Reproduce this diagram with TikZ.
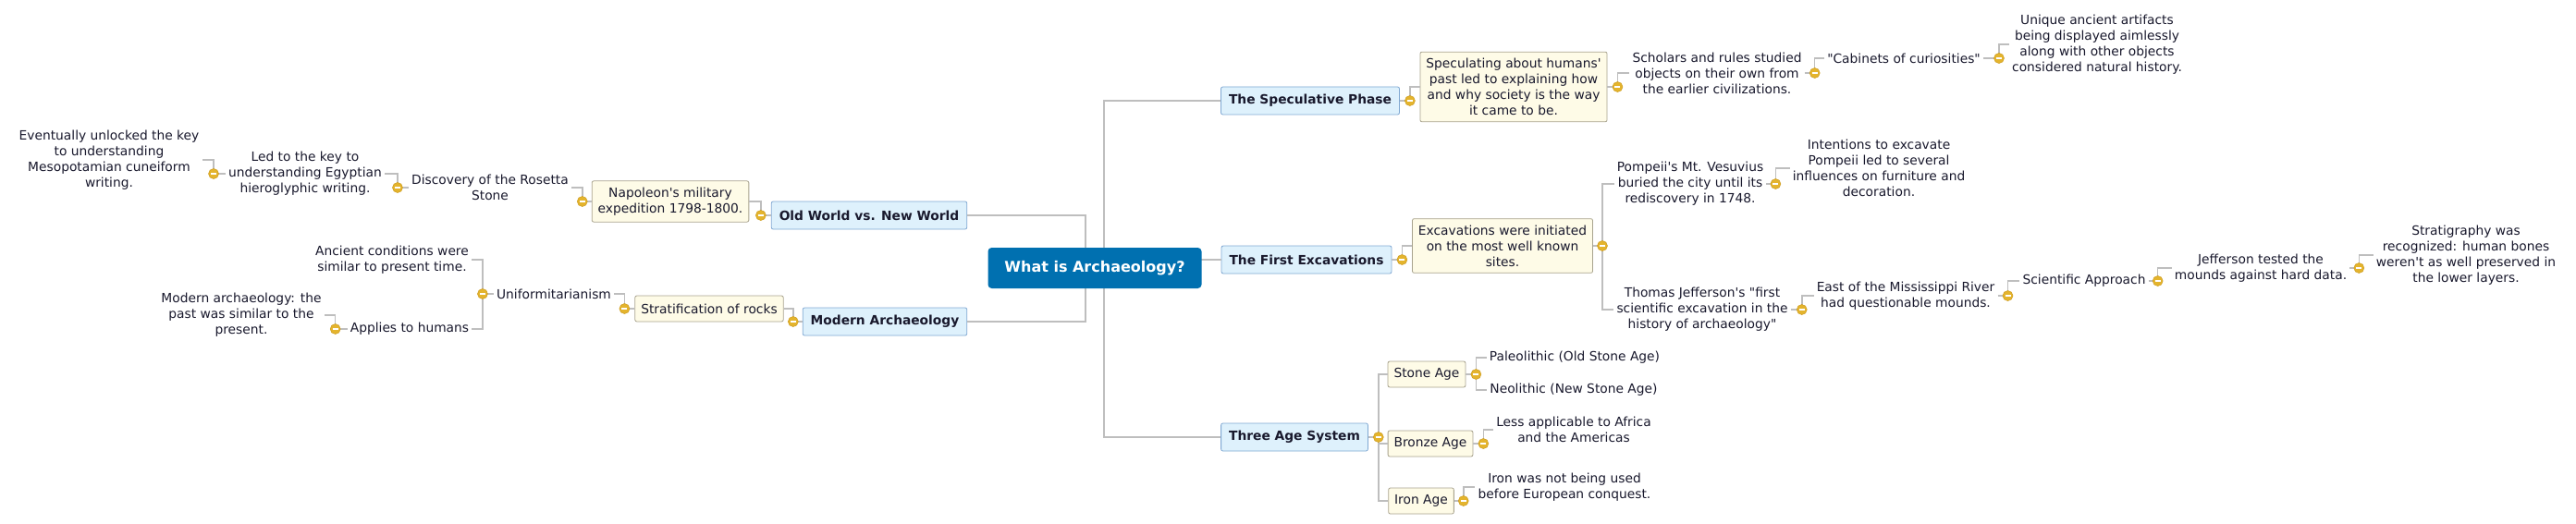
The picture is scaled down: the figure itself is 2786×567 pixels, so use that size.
\documentclass[tikz,border=0pt]{standalone}
\usepackage{fontspec}
\setmainfont{DejaVu Sans}[Ligatures = TeXOff]
\usepackage{tikz}

\definecolor{rootblue}{RGB}{0,112,176}
\definecolor{topicfill}{RGB}{222,241,252}
\definecolor{topicdraw}{RGB}{128,168,210}
\definecolor{notefill}{RGB}{254,251,231}
\definecolor{notedraw}{RGB}{168,163,142}
\definecolor{linkgray}{RGB}{190,190,190}
\definecolor{toggold}{RGB}{228,180,45}
\definecolor{togedge}{RGB}{205,155,30}
\definecolor{inkdark}{RGB}{25,25,45}

\begin{document}
\begin{tikzpicture}[x = 1pt, y = -1pt,
    every node/.style = {font = \fontsize{13.8}{17}\selectfont, text = inkdark},
    root/.style = {fill = rootblue, rounded corners = 4pt, text = white,
      font = \fontsize{16}{19}\selectfont\bfseries, minimum width = 231pt, minimum height = 44pt},
    topic/.style = {fill = topicfill, draw = topicdraw, line width = 0.8pt, rounded corners = 2pt,
      font = \fontsize{13.8}{17}\selectfont\bfseries, minimum height = 30pt, inner xsep = 8.5pt},
    note/.style = {fill = notefill, draw = notedraw, line width = 0.8pt, rounded corners = 2pt,
      align = center, minimum height = 28pt, inner xsep = 6.5pt, inner ysep = 7pt},
    leaf/.style = {align = center, inner xsep = 3pt, inner ysep = 2pt},
    link/.style = {draw = linkgray, line width = 1.6pt},
    tog/.style = {circle, fill = toggold, draw = togedge, line width = 0.5pt,
      minimum size = 11pt, inner sep = 0pt,
      path picture = {\draw [white, line width = 1.8pt]
        ([xshift = 2.5pt] path picture bounding box.west) --
        ([xshift = -2.5pt] path picture bounding box.east);}}]

  \useasboundingbox [fill = white] (0, 0) rectangle (2786, 567);

  % main branches
  \node (spec) at (1417, 109) [topic] {The Speculative Phase};
  \node (firstex) at (1413, 281) [topic] {The First Excavations};
  \node (three) at (1400, 473) [topic] {Three Age System};
  \node (oldw) at (940, 233) [topic] {Old World vs. New World};
  \node (modern) at (957, 348) [topic] {Modern Archaeology};

  % left side
  \node (napol) at (725, 218) [note] {Napoleon's military\\expedition 1798-1800.};
  \node (disc) at (530, 203) [leaf] {Discovery of the Rosetta\\Stone};
  \node (led) at (330, 188) [leaf] {Led to the key to\\understanding Egyptian\\hieroglyphic writing.};
  \node (event) at (118, 173) [leaf] {Eventually unlocked the key\\to understanding\\Mesopotamian cuneiform\\writing.};
  \node (strat) at (767, 334) [note] {Stratification of rocks};
  \node (unif) at (599, 318) [leaf] {Uniformitarianism};
  \node (ancient) at (424, 281) [leaf] {Ancient conditions were\\similar to present time.};
  \node (applies) at (443, 356) [leaf] {Applies to humans};
  \node (modarch) at (261, 341) [leaf] {Modern archaeology: the\\past was similar to the\\present.};

  % speculative phase
  \node (specul) at (1637, 94) [note] {Speculating about humans'\\past led to explaining how\\and why society is the way\\it came to be.};
  \node (scholars) at (1857, 79) [leaf] {Scholars and rules studied\\objects on their own from\\the earlier civilizations.};
  \node (cabin) at (2059, 63) [leaf] {"Cabinets of curiosities"};
  \node (unique) at (2268, 48) [leaf] {Unique ancient artifacts\\being displayed aimlessly\\along with other objects\\considered natural history.};

  % first excavations
  \node (excav) at (1625, 266) [note] {Excavations were initiated\\on the most well known\\sites.};
  \node (pompeii) at (1828, 199) [leaf] {Pompeii's Mt. Vesuvius\\buried the city until its\\rediscovery in 1748.};
  \node (intent) at (2032, 182) [leaf] {Intentions to excavate\\Pompeii led to several\\influences on furniture and\\decoration.};
  \node (thomas) at (1841, 335) [leaf] {Thomas Jefferson's "first\\scientific excavation in the\\history of archaeology"};
  \node (east) at (2061, 320) [leaf] {East of the Mississippi River\\had questionable mounds.};
  \node (sciapp) at (2254, 304) [leaf] {Scientific Approach};
  \node (jeff) at (2445, 290) [leaf] {Jefferson tested the\\mounds against hard data.};
  \node (strati) at (2667, 276) [leaf] {Stratigraphy was\\recognized: human bones\\weren't as well preserved in\\the lower layers.};

  % three age system
  \node (stone) at (1543, 405) [note] {Stone Age};
  \node (bronze) at (1547, 480) [note] {Bronze Age};
  \node (iron) at (1537, 542) [note] {Iron Age};
  \node (paleo) at (1703, 387) [leaf] {Paleolithic (Old Stone Age)};
  \node (neo) at (1702, 422) [leaf] {Neolithic (New Stone Age)};
  \node (lessapp) at (1702, 465) [leaf] {Less applicable to Africa\\and the Americas};
  \node (ironuse) at (1692, 527) [leaf] {Iron was not being used\\before European conquest.};

  \coordinate (rtrunk) at (1194, 290);
  \coordinate (ltrunk) at (1174, 290);

  \coordinate (t-spec) at ([xshift = 11pt] spec.east);
  \coordinate (t-first) at ([xshift = 11pt] firstex.east);
  \coordinate (t-three) at ([xshift = 11pt] three.east);
  \coordinate (t-old) at ([xshift = -11pt] oldw.west);
  \coordinate (t-mod) at ([xshift = -10pt] modern.west);
  \coordinate (t-napol) at ([xshift = -10pt] napol.west);
  \coordinate (t-disc) at ([xshift = -12pt] disc.west);
  \coordinate (t-led) at ([xshift = -13pt] led.west);
  \coordinate (t-strat) at ([xshift = -11pt] strat.west);
  \coordinate (t-unif) at ([xshift = -12pt] unif.west);
  \coordinate (t-applies) at ([xshift = -13pt] applies.west);
  \coordinate (t-specul) at ([xshift = 11pt] specul.east);
  \coordinate (t-scholars) at ([xshift = 11pt] scholars.east);
  \coordinate (t-cabin) at ([xshift = 17pt] cabin.east);
  \coordinate (t-excav) at ([xshift = 10pt] excav.east);
  \coordinate (t-pompeii) at ([xshift = 10pt] pompeii.east);
  \coordinate (t-thomas) at ([xshift = 12pt] thomas.east);
  \coordinate (t-east) at ([xshift = 11pt] east.east);
  \coordinate (t-sciapp) at ([xshift = 10pt] sciapp.east);
  \coordinate (t-jeff) at ([xshift = 10pt] jeff.east);
  \coordinate (t-stone) at ([xshift = 11pt] stone.east);
  \coordinate (t-bronze) at ([xshift = 11pt] bronze.east);
  \coordinate (t-iron) at ([xshift = 10pt] iron.east);

  % connectors
  \draw [link] (spec.west) -| (rtrunk);
  \draw [link] (three.west) -| (rtrunk);
  \draw [link] (firstex.west) -- (firstex.west -| rtrunk);
  \draw [link] (oldw.east) -| (ltrunk);
  \draw [link] (modern.east) -| (ltrunk);

  \draw [link] (spec.east) -- (t-spec) |- (specul.west);
  \draw [link] (specul.east) -- (t-specul) |- (scholars.west);
  \draw [link] (scholars.east) -- (t-scholars) |- (cabin.west);
  \draw [link] (cabin.east) -- (t-cabin) |- (unique.west);

  \draw [link] (firstex.east) -- (t-first) |- (excav.west);
  \draw [link] (excav.east) -- (t-excav) |- (pompeii.west);
  \draw [link] (t-excav) |- (thomas.west);
  \draw [link] (pompeii.east) -- (t-pompeii) |- (intent.west);
  \draw [link] (thomas.east) -- (t-thomas) |- (east.west);
  \draw [link] (east.east) -- (t-east) |- (sciapp.west);
  \draw [link] (sciapp.east) -- (t-sciapp) |- (jeff.west);
  \draw [link] (jeff.east) -- (t-jeff) |- (strati.west);

  \draw [link] (three.east) -- (t-three) |- (stone.west);
  \draw [link] (t-three) |- (bronze.west);
  \draw [link] (t-three) |- (iron.west);
  \draw [link] (stone.east) -- (t-stone) |- (paleo.west);
  \draw [link] (t-stone) |- (neo.west);
  \draw [link] (bronze.east) -- (t-bronze) |- (lessapp.west);
  \draw [link] (iron.east) -- (t-iron) |- (ironuse.west);

  \draw [link] (oldw.west) -- (t-old) |- (napol.east);
  \draw [link] (napol.west) -- (t-napol) |- (disc.east);
  \draw [link] (disc.west) -- (t-disc) |- (led.east);
  \draw [link] (led.west) -- (t-led) |- (event.east);
  \draw [link] (modern.west) -- (t-mod) |- (strat.east);
  \draw [link] (strat.west) -- (t-strat) |- (unif.east);
  \draw [link] (unif.west) -- (t-unif) |- (ancient.east);
  \draw [link] (t-unif) |- (applies.east);
  \draw [link] (applies.west) -- (t-applies) |- (modarch.east);

  \node (root) at (1184, 290) [root] {What is Archaeology?};

  \foreach \t in {t-spec, t-first, t-three, t-old, t-mod, t-napol, t-disc, t-led,
      t-strat, t-unif, t-applies, t-specul, t-scholars, t-cabin, t-excav,
      t-pompeii, t-thomas, t-east, t-sciapp, t-jeff, t-stone, t-bronze, t-iron}
    \node at (\t) [tog] {};
\end{tikzpicture}
\end{document}
